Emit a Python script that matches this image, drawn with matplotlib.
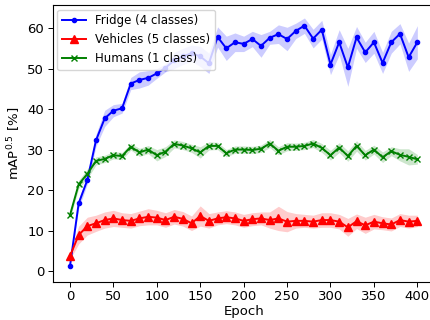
import numpy as np
import matplotlib
matplotlib.use("Agg")
import matplotlib.pyplot as plt

epochs = list(range(0, 401, 10))

fridge = [1.2, 16.7, 22.5, 32.3, 37.7, 39.6, 40.2, 46.3, 47.2, 47.7,
          48.8, 50.2, 52.0, 53.0, 53.8, 53.0, 51.3, 57.8, 55.0, 56.5,
          56.1, 57.3, 55.6, 57.6, 58.5, 57.3, 59.3, 60.6, 57.4, 59.6,
          51.0, 56.5, 50.3, 57.7, 54.0, 56.5, 51.4, 56.5, 58.6, 52.8, 56.5]
fridge_std = [0.3, 1.2, 1.0, 1.5, 2.0, 1.5, 1.2, 1.5, 2.0, 1.8,
              1.2, 1.0, 2.0, 2.0, 2.0, 2.5, 2.5, 2.5, 3.0, 2.3,
              1.9, 1.9, 2.8, 1.6, 2.3, 2.9, 1.9, 1.9, 2.3, 2.3,
              2.5, 3.1, 4.7, 2.7, 2.5, 2.7, 2.6, 2.7, 2.5, 3.5, 4.1]

vehicles = [3.7, 8.9, 11.1, 11.8, 12.6, 13.0, 12.6, 12.4, 13.0, 13.4,
            13.2, 12.6, 13.4, 12.9, 11.8, 13.6, 12.4, 13.0, 13.3, 13.0,
            12.4, 12.8, 13.0, 12.6, 13.0, 12.2, 12.4, 12.4, 12.2, 12.6,
            12.6, 12.2, 10.8, 12.3, 11.3, 12.2, 11.8, 11.5, 12.6, 12.2, 12.4]
vehicles_std = [0.8, 2.2, 2.2, 2.0, 2.0, 2.0, 1.8, 1.8, 1.8, 2.0,
                1.8, 1.8, 1.8, 1.8, 1.8, 2.5, 1.8, 1.6, 1.6, 1.6,
                1.6, 1.6, 1.6, 2.0, 3.0, 2.5, 1.8, 1.6, 1.6, 1.8,
                1.8, 1.8, 2.2, 1.8, 2.0, 1.8, 1.6, 1.6, 1.6, 1.6, 1.4]

humans = [13.8, 21.4, 24.0, 27.2, 27.7, 28.6, 28.4, 30.7, 29.3, 30.0,
          28.6, 29.5, 31.4, 31.0, 30.3, 29.3, 30.9, 30.9, 29.1, 30.0,
          30.0, 29.9, 30.2, 31.5, 29.7, 30.7, 30.7, 30.9, 31.5, 30.4,
          28.6, 30.5, 28.4, 30.9, 28.6, 30.0, 28.1, 29.6, 28.7, 28.2, 27.6]
humans_std = [0.8, 1.0, 1.2, 1.0, 0.9, 0.9, 0.9, 0.8, 1.0, 1.0,
              1.4, 1.2, 1.0, 1.0, 1.0, 1.4, 1.0, 0.9, 0.9, 0.9,
              0.9, 0.9, 0.9, 1.0, 1.0, 1.0, 0.9, 0.9, 1.0, 1.1,
              1.2, 1.2, 1.3, 1.3, 1.2, 1.1, 1.3, 1.1, 1.5, 2.0, 1.2]

labels = ["Fridge (4 classes)", "Vehicles (5 classes)", "Humans (1 class)"]
x_ticks = [0, 50, 100, 150, 200, 250, 300, 350, 400]
y_ticks = [0, 10, 20, 30, 40, 50, 60]

fs_leg = 8.5
fs_tick = 9.5
plt.rcParams['font.family'] = ['DejaVu Sans']
plt.rcParams['font.size'] = fs_tick

fig = plt.figure(figsize=(4.3, 3.2), dpi=100)
ax = fig.add_axes([52.6 / 430, 1 - 282 / 320, (434.7 - 52.6) / 430, (282 - 5) / 320])

x = np.array(epochs)
series = [
    (fridge, fridge_std, 'blue', '.', 6),
    (vehicles, vehicles_std, 'red', '^', 5.5),
    (humans, humans_std, 'green', 'x', 4.5),
]
for (vals, sd, col, mk, ms), lab in zip(series, labels):
    v = np.array(vals)
    s = np.array(sd)
    ax.plot(x, v, color=col, marker=mk, markersize=ms, linewidth=1.4, label=lab)
    ax.fill_between(x, v - s, v + s, color=col, alpha=0.2, linewidth=0)

ax.set_xlim(-20, 420)
ax.set_ylim(-2.7, 65.7)
ax.set_xticks(x_ticks)
ax.set_yticks(y_ticks)
ax.tick_params(labelsize=fs_tick, length=3.5, width=0.7, pad=2.5)
for sp in ax.spines.values():
    sp.set_linewidth(0.8)
ax.set_xlabel("Epoch", fontsize=fs_tick, labelpad=1)
ax.set_ylabel(r"mAP$^{0.5}$ [%]", fontsize=fs_tick, labelpad=3)
ax.legend(loc='upper left', fontsize=fs_leg, borderaxespad=0.4, handlelength=2.0)

fig.savefig("out.png", dpi=100)
